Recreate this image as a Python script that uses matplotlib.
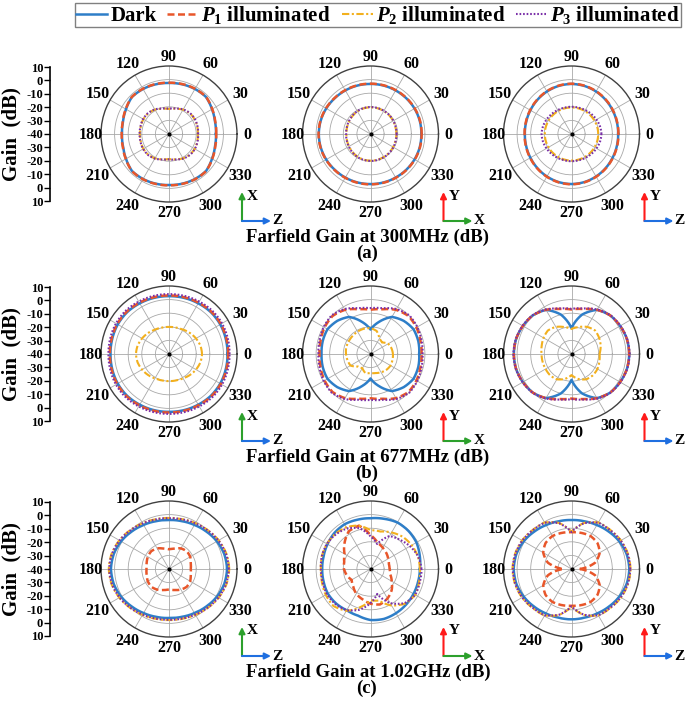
import numpy as np
import matplotlib.pyplot as plt
from matplotlib.lines import Line2D

plt.rcParams['font.family'] = 'Liberation Serif'
plt.rcParams['font.weight'] = 'bold'
plt.rcParams['mathtext.fontset'] = 'custom'
plt.rcParams['mathtext.it'] = 'Liberation Serif:italic:bold'
plt.rcParams['mathtext.rm'] = 'Liberation Serif:bold'

W, H = 685, 703

# angles (deg) for every pattern, values are gain in dB
angles = np.arange(0, 360, 15)

# (a) 300 MHz
a1_dark = [-5.5, -5.0, -3.5, -1.5, -1.8, -2.2, -2.5, -2.2, -1.8, -1.5, -3.5, -5.0,
           -5.5, -5.0, -3.5, -1.5, -1.8, -2.2, -2.5, -2.2, -1.8, -1.5, -3.5, -5.0]
a1_p1 = [-5.3, -4.8, -3.3, -1.4, -1.6, -2.0, -2.3, -2.0, -1.6, -1.4, -3.3, -4.8,
         -5.2, -4.8, -3.3, -1.4, -1.6, -2.0, -2.3, -2.0, -1.6, -1.4, -3.3, -4.8]
a1_p2 = [-18.8, -18.5, -18.2, -18.4, -19.3, -20.8, -21.6, -20.8, -19.3, -18.4, -18.2, -18.5,
         -18.6, -18.5, -18.2, -18.4, -19.3, -20.8, -21.6, -20.8, -19.3, -18.4, -18.2, -18.5]
a1_p3 = [-18.6, -18.3, -18.0, -18.2, -19.1, -20.6, -21.4, -20.6, -19.1, -18.2, -18.0, -18.3,
         -18.4, -18.3, -18.0, -18.2, -19.1, -20.6, -21.4, -20.6, -19.1, -18.2, -18.0, -18.3]

a2_dark = [-2.6, -2.5, -2.6, -2.8, -3.0, -3.1, -3.2, -3.1, -3.0, -2.8, -2.4, -2.1,
           -2.0, -2.1, -2.4, -2.8, -3.0, -3.1, -3.2, -3.1, -3.0, -2.8, -2.6, -2.5]
a2_p1 = [-2.4, -2.3, -2.4, -2.6, -2.8, -2.9, -3.0, -2.9, -2.8, -2.6, -2.2, -1.9,
         -1.8, -1.9, -2.2, -2.6, -2.8, -2.9, -3.0, -2.9, -2.8, -2.6, -2.4, -2.3]
a2_p2 = [-21.0, -21.0, -20.8, -20.6, -20.5, -20.4, -20.4, -20.5, -20.8, -21.3, -21.8, -22.1,
         -22.3, -22.1, -21.8, -21.3, -20.8, -20.5, -20.4, -20.4, -20.5, -20.6, -20.8, -21.0]
a2_p3 = [-20.8, -20.8, -20.6, -20.4, -20.3, -20.2, -20.2, -20.3, -20.6, -21.1, -21.6, -21.9,
         -22.1, -21.9, -21.6, -21.1, -20.6, -20.3, -20.2, -20.2, -20.3, -20.4, -20.6, -20.8]

a3_dark = [-5.7, -5.5, -5.1, -4.5, -3.9, -3.4, -3.2, -3.4, -3.9, -4.5, -5.1, -5.5,
           -5.7, -5.5, -5.1, -4.5, -3.9, -3.4, -3.2, -3.4, -3.9, -4.5, -5.1, -5.5]
a3_p1 = [-5.5, -5.3, -4.9, -4.3, -3.7, -3.2, -3.0, -3.2, -3.7, -4.3, -4.9, -5.3,
         -5.5, -5.3, -4.9, -4.3, -3.7, -3.2, -3.0, -3.2, -3.7, -4.3, -4.9, -5.3]
a3_p2 = [-20.4, -20.4, -20.5, -20.5, -20.5, -20.5, -20.5, -20.5, -20.5, -20.5, -20.5, -20.4,
         -20.4, -20.4, -20.5, -20.5, -20.5, -20.5, -20.5, -20.5, -20.5, -20.5, -20.5, -20.4]
a3_p3 = [-18.0, -18.3, -18.8, -19.3, -19.7, -20.0, -20.0, -20.0, -19.7, -19.3, -18.8, -18.3,
         -18.0, -18.3, -18.8, -19.3, -19.7, -20.0, -20.0, -20.0, -19.7, -19.3, -18.8, -18.3]

# (b) 677 MHz
b1_dark = [3.0, 3.2, 3.5, 3.5, 3.0, 2.7, 2.5, 2.7, 3.0, 3.5, 3.5, 3.2,
           3.0, 3.2, 3.5, 3.5, 3.0, 2.7, 2.5, 2.7, 3.0, 3.5, 3.5, 3.2]
b1_p1 = [3.5, 3.7, 4.0, 4.0, 3.5, 3.2, 3.0, 3.2, 3.5, 4.0, 4.0, 3.7,
         3.5, 3.7, 4.0, 4.0, 3.5, 3.2, 3.0, 3.2, 3.5, 4.0, 4.0, 3.7]
b1_p2 = [-15.7, -16.1, -17.1, -18.2, -19.3, -19.9, -20.1, -19.9, -19.3, -18.2, -17.1, -16.1,
         -15.7, -16.1, -17.1, -18.2, -19.3, -19.9, -20.1, -19.9, -19.3, -18.2, -17.1, -16.1]
b1_p3 = [4.5, 4.7, 5.0, 5.0, 4.5, 4.2, 4.0, 4.2, 4.5, 5.0, 5.0, 4.7,
         4.5, 4.7, 5.0, 5.0, 4.5, 4.2, 4.0, 4.2, 4.5, 5.0, 5.0, 4.7]

b2_dark = [-4.2, -3.6, -3.5, -5.5, -8.5, -15.5, -22.0, -15.5, -8.5, -5.5, -3.5, -3.6,
           -4.0, -3.6, -3.5, -5.5, -8.5, -15.5, -22.0, -15.5, -8.5, -5.5, -3.5, -3.6]
b2_p1 = [-2.5, -2.0, -1.0, -0.5, -2.5, -6.0, -7.5, -6.0, -2.5, -0.5, -1.0, -2.0,
         -2.5, -2.0, -1.0, -0.5, -2.5, -6.0, -7.5, -6.0, -2.5, -0.5, -1.0, -2.0]
b2_p2 = [-23.5, -24.0, -25.0, -28.0, -27.0, -22.5, -21.0, -20.8, -21.0, -21.3, -21.5, -21.5,
         -22.0, -22.5, -23.0, -27.0, -28.0, -25.5, -26.0, -25.5, -24.5, -23.5, -23.0, -23.3]
b2_p3 = [-1.7, -1.2, -0.3, 0.3, -1.8, -5.2, -6.3, -5.2, -1.8, 0.3, -0.3, -1.2,
         -1.7, -1.2, -0.3, 0.3, -1.8, -5.2, -6.3, -5.2, -1.8, 0.3, -0.3, -1.2]

b3_dark = [2.4, 2.2, 1.3, 0.2, -2.5, -10.0, -21.0, -10.0, -2.5, 0.2, 1.3, 2.2,
           2.4, 2.2, 1.3, 0.2, -2.5, -10.0, -21.0, -10.0, -2.5, 0.2, 1.3, 2.2]
b3_p1 = [2.4, 2.2, 1.3, 0.2, -2.5, -5.8, -7.3, -5.8, -2.5, 0.2, 1.3, 2.2,
         2.4, 2.2, 1.3, 0.2, -2.5, -5.8, -7.3, -5.8, -2.5, 0.2, 1.3, 2.2]
b3_p2 = [-19.4, -17.8, -16.5, -15.5, -17.0, -19.5, -21.6, -19.5, -17.0, -15.5, -16.3, -17.3,
         -18.0, -18.0, -18.0, -17.8, -18.5, -21.0, -24.5, -21.0, -18.5, -17.8, -18.0, -18.8]
b3_p3 = [2.7, 2.4, 1.5, 0.4, -2.2, -5.4, -6.8, -5.4, -2.2, 0.4, 1.5, 2.4,
         2.7, 2.4, 1.5, 0.4, -2.2, -5.4, -6.8, -5.4, -2.2, 0.4, 1.5, 2.4]

# (c) 1.02 GHz
c1_dark = [2.7, 2.1, 0.7, -1.1, -2.6, -3.6, -4.0, -3.6, -2.6, -1.1, 0.7, 2.1,
           2.7, 2.1, 0.7, -1.1, -2.6, -3.6, -4.0, -3.6, -2.6, -1.1, 0.7, 2.1]
c1_p1 = [-24.0, -23.5, -22.0, -21.5, -22.5, -24.5, -25.5, -24.5, -22.5, -21.5, -22.0, -23.0,
         -23.5, -23.0, -22.0, -21.5, -22.5, -24.0, -25.0, -24.0, -22.5, -21.5, -22.0, -23.5]
c1_p2 = [4.3, 3.7, 2.2, 0.4, -1.1, -2.1, -2.5, -2.1, -1.1, 0.4, 2.2, 3.7,
         4.3, 3.7, 2.2, 0.4, -1.1, -2.1, -2.5, -2.1, -1.1, 0.4, 2.2, 3.7]
c1_p3 = [4.0, 3.4, 2.0, 0.2, -1.3, -2.3, -2.7, -2.3, -1.3, 0.2, 2.0, 3.4,
         4.0, 3.4, 2.0, 0.2, -1.3, -2.3, -2.7, -2.3, -1.3, 0.2, 2.0, 3.4]

c2_dark = [-3.7, -2.5, -1.0, -0.5, -0.5, -1.8, -2.7, -2.5, -2.0, -2.5, -3.5, -4.3,
           -4.5, -4.3, -3.8, -4.2, -5.0, -4.5, -2.5, -2.0, -2.5, -3.0, -3.5, -3.8]
c2_p1 = [-26.0, -26.0, -25.0, -23.5, -22.0, -20.0, -15.0, -7.0, -8.0, -13.0, -18.0, -20.0,
         -20.5, -22.0, -24.0, -22.0, -19.0, -17.0, -14.5, -13.0, -15.0, -18.0, -22.0, -25.0]
c2_p2 = [-3.7, -4.0, -5.0, -6.5, -9.0, -11.5, -11.5, -7.0, -4.5, -3.5, -3.0, -3.0,
         -3.5, -3.0, -2.0, -1.5, -4.5, -11.0, -17.0, -16.0, -9.0, -4.0, -2.0, -3.0]
c2_p3 = [-2.5, -3.8, -6.5, -9.6, -12.0, -21.0, -16.0, -9.0, -5.5, -4.0, -3.0, -3.0,
         -3.5, -3.5, -3.0, -3.5, -5.0, -9.0, -15.0, -21.0, -11.0, -4.5, -2.0, -2.5]

c3_dark = [2.5, 2.0, 0.6, -1.2, -2.7, -3.7, -4.0, -3.7, -2.7, -1.2, 0.6, 2.0,
           2.5, 2.0, 0.6, -1.0, -2.3, -3.0, -3.0, -3.0, -2.3, -1.0, 0.6, 2.0]
c3_p1 = [-34.0, -22.0, -16.0, -13.0, -12.0, -12.5, -13.0, -12.5, -12.0, -13.0, -16.0, -22.0,
         -34.0, -22.0, -16.0, -13.0, -12.0, -12.5, -13.0, -12.5, -12.0, -13.0, -16.0, -22.0]
c3_p2 = [3.4, 3.0, 2.0, 0.5, -0.5, -5.0, -12.5, -5.0, -0.5, 0.5, 2.0, 3.0,
         3.4, 3.0, 2.0, 0.5, -0.5, -5.0, -12.3, -5.0, -0.5, 0.5, 2.0, 3.0]
c3_p3 = [3.2, 2.8, 1.8, 0.3, -0.7, -5.2, -12.8, -5.2, -0.7, 0.3, 1.8, 2.8,
         3.2, 2.8, 1.8, 0.3, -0.7, -5.2, -12.6, -5.2, -0.7, 0.3, 1.8, 2.8]

rows = [
    [(a1_dark, a1_p1, a1_p2, a1_p3), (a2_dark, a2_p1, a2_p2, a2_p3), (a3_dark, a3_p1, a3_p2, a3_p3)],
    [(b1_dark, b1_p1, b1_p2, b1_p3), (b2_dark, b2_p1, b2_p2, b2_p3), (b3_dark, b3_p1, b3_p2, b3_p3)],
    [(c1_dark, c1_p1, c1_p2, c1_p3), (c2_dark, c2_p1, c2_p2, c2_p3), (c3_dark, c3_p1, c3_p2, c3_p3)],
]
row_titles = ['Farfield Gain at 300MHz (dB)', 'Farfield Gain at 677MHz (dB)',
              'Farfield Gain at 1.02GHz (dB)']
row_tags = ['(a)', '(b)', '(c)']
scale_labels = ['10', '0', '-10', '-20', '-30', '-40', '-30', '-20', '-10', '0', '10']
# (vertical axis, horizontal axis) of the small coordinate icon under each column
icon_axes = [('X', 'Z'), ('Y', 'X'), ('Y', 'Z')]
axis_colors = {'X': '#2ca02c', 'Y': '#ff1a1a', 'Z': '#1f6fe0'}

series_labels = ['Dark', r'$P_{\mathit{1}}$ illuminated', r'$P_{\mathit{2}}$ illuminated',
                 r'$P_{\mathit{3}}$ illuminated']
styles = [
    dict(color='#2e7ec8', lw=1.8, ls='-'),
    dict(color='#e8562a', lw=1.8, ls=(0, (2.8, 1.4))),
    dict(color='#f2b01e', lw=1.5, ls=(0, (3.5, 1.2, 1.0, 1.2))),
    dict(color='#7a2fa8', lw=1.5, ls=(0, (0.8, 0.9))),
]

col_x = [169, 370.5, 571.5]
row_y = [134, 354, 569]
R = 68

fig = plt.figure(figsize=(W / 100, H / 100), dpi=100)

for ri, cy in enumerate(row_y):
    for ci, cx in enumerate(col_x):
        ax = fig.add_axes([(cx - R) / W, 1 - (cy + R) / H, 2 * R / W, 2 * R / H],
                          projection='polar')
        th = np.deg2rad(np.append(angles, 360))
        for vals, st in zip(rows[ri][ci], styles):
            ln, = ax.plot(th, np.append(vals, vals[0]), **st)
            # let the polar transform draw each segment as a smooth arc
            ln.get_path()._interpolation_steps = 40
        ax.plot([0], [-40], 'o', color='k', ms=2)
        ax.set_ylim(-40, 10)
        ax.set_rgrids([-30, -20, -10, 0], labels=[])
        ax.set_thetagrids(range(0, 360, 30), labels=[])
        ax.grid(color='#a8a8a8', lw=0.6)
        ax.spines['polar'].set_color('#404040')
        ax.spines['polar'].set_linewidth(1.0)

    # scale bar on the left
    sax = fig.add_axes([50 / W, 1 - (cy + 67) / H, 0.0001, 134 / H])
    sax.set_ylim(10, 0)
    sax.set_yticks(range(len(scale_labels)))
    sax.set_yticklabels(scale_labels, fontsize=9, fontweight='bold')
    sax.tick_params(axis='y', direction='out', length=4, width=1, pad=1)
    sax.set_xticks([])
    for s in ['top', 'right', 'bottom']:
        sax.spines[s].set_visible(False)
    sax.spines['left'].set_linewidth(1.2)

# overlay for text and icons in pixel units
ov = fig.add_axes([0, 0, 1, 1])
ov.set_xlim(0, W)
ov.set_ylim(H, 0)
ov.axis('off')

for ri, cy in enumerate(row_y):
    ov.text(11, cy, 'Gain  (dB)', rotation=90, ha='center', va='center', fontsize=15)
    ov.text(368, cy + 103, row_titles[ri], ha='center', va='center', fontsize=13.5)
    ov.text(367, cy + 119, row_tags[ri], ha='center', va='center', fontsize=13.5)
    for ci, cx in enumerate(col_x):
        for a in range(0, 360, 30):
            rad = np.deg2rad(a)
            d = 78 + 5 * abs(np.sin(2 * rad))
            ov.text(cx + d * np.cos(rad), cy - d * np.sin(rad) + 1, str(a),
                    ha='center', va='center', fontsize=11.5)
        vname, hname = icon_axes[ci]
        ox, oy = cx + 73, cy + 87
        ov.annotate('', xy=(ox, oy - 29), xytext=(ox, oy),
                    arrowprops=dict(arrowstyle='-|>', color=axis_colors[vname], lw=1.5,
                                    mutation_scale=9, shrinkA=0, shrinkB=0))
        ov.annotate('', xy=(ox + 29, oy), xytext=(ox, oy),
                    arrowprops=dict(arrowstyle='-|>', color=axis_colors[hname], lw=1.5,
                                    mutation_scale=9, shrinkA=0, shrinkB=0))
        ov.text(ox + 5, oy - 25, vname, ha='left', va='center', fontsize=11)
        ov.text(ox + 30, oy, hname, ha='left', va='center', fontsize=11)

handles = [Line2D([], [], **st) for st in styles]
fig.legend(handles, series_labels, loc='upper left', bbox_to_anchor=(75 / W, 1 - 3 / H),
           ncol=4, fontsize=15, handlelength=1.5, handletextpad=0.15, columnspacing=0.5,
           borderpad=0.05, borderaxespad=0, frameon=True, fancybox=False,
           edgecolor='#808080', framealpha=1)

fig.savefig('out.png', dpi=100)
